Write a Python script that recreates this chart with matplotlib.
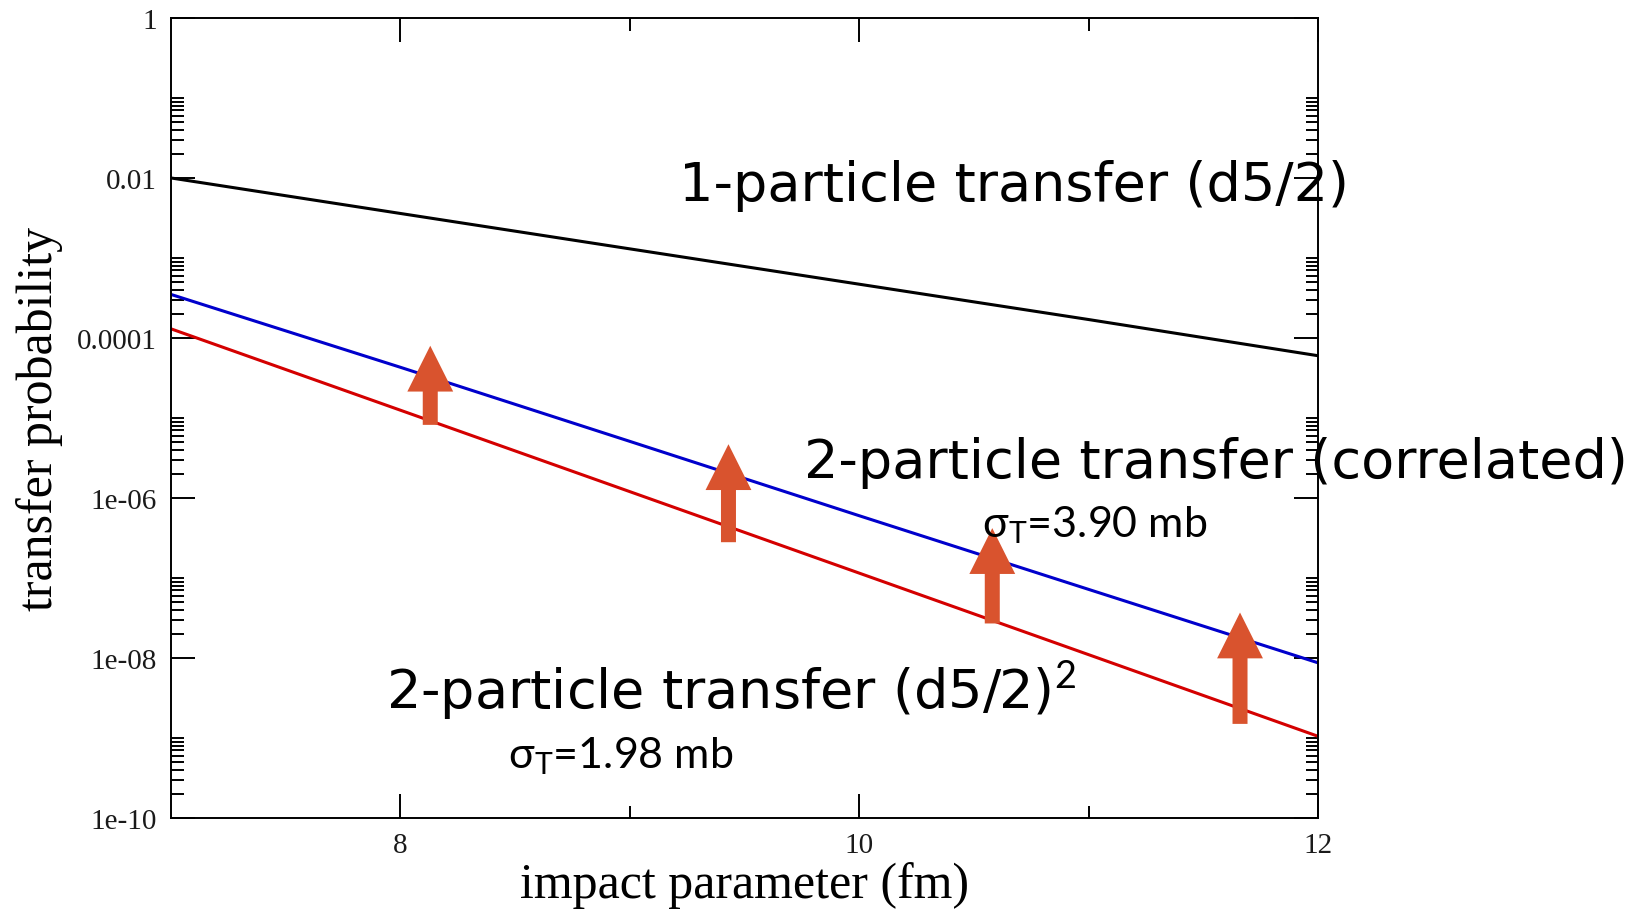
import matplotlib
matplotlib.use("Agg")
import matplotlib.pyplot as plt
from matplotlib.ticker import FixedLocator, NullFormatter

# impact parameter (fm) and transfer probabilities
impact = [7, 8, 9, 10, 11, 12]
p_one = [1.0e-2, 3.6e-3, 1.3e-3, 4.7e-4, 1.7e-4, 6.0e-5]
p_corr = [3.5e-4, 4.3e-5, 5.1e-6, 6.0e-7, 7.2e-8, 8.7e-9]
p_d52sq = [1.3e-4, 1.25e-5, 1.2e-6, 1.15e-7, 1.1e-8, 1.05e-9]

# enhancement arrows: x position, base (on the uncorrelated curve) and tip
arrow_x = [8.13, 9.43, 10.58, 11.66]
arrow_base = [8.2e-6, 2.8e-7, 2.7e-8, 1.5e-9]
arrow_tip = [8.0e-5, 4.7e-6, 4.2e-7, 3.7e-8]

x_major = [8, 10, 12]
x_minor = [9, 11]
y_major = [1e-10, 1e-8, 1e-6, 1e-4, 1e-2, 1]
y_major_labels = ["1e-10", "1e-08", "1e-06", "0.0001", "0.01", "1"]

plt.rcParams["mathtext.fontset"] = "custom"
plt.rcParams["mathtext.rm"] = "Lato"

fig = plt.figure(figsize=(16.43, 9.12), dpi=100)
ax = fig.add_axes([0.1041, 0.1020, 0.6981, 0.8772])

ax.plot(impact, p_one, color="black", lw=2.2)
ax.plot(impact, p_corr, color="#0000cc", lw=2.2)
ax.plot(impact, p_d52sq, color="#d40000", lw=2.2)

ax.set_yscale("log")
ax.set_xlim(7, 12)
ax.set_ylim(1e-10, 1)

# major ticks every two decades, minor ticks fill the lower decade of each pair
y_minor = []
for e in range(-10, 0, 2):
    y_minor += [k * 10.0 ** e for k in range(2, 11)]
ax.yaxis.set_major_locator(FixedLocator(y_major))
ax.yaxis.set_minor_locator(FixedLocator(y_minor))
ax.yaxis.set_minor_formatter(NullFormatter())
ax.set_yticklabels(y_major_labels)
ax.xaxis.set_major_locator(FixedLocator(x_major))
ax.xaxis.set_minor_locator(FixedLocator(x_minor))
ax.set_xticklabels([str(v) for v in x_major])

serif = "Liberation Serif"
ax.tick_params(which="both", direction="in", top=True, right=True, width=1.4)
ax.tick_params(which="major", length=17, labelsize=21, pad=10)
ax.tick_params(which="minor", length=9)
for lab in ax.get_xticklabels() + ax.get_yticklabels():
    lab.set_fontfamily(serif)
    lab.set_color("#1a1a1a")
for s in ax.spines.values():
    s.set_linewidth(1.4)

ax.set_xlabel("impact parameter (fm)", fontfamily=serif, fontsize=36, labelpad=2)
ax.set_ylabel("transfer probability", fontfamily=serif, fontsize=36, labelpad=10)

arrow_color = "#d9532e"
for x, y0, y1 in zip(arrow_x, arrow_base, arrow_tip):
    ax.annotate("", xy=(x, y1), xytext=(x, y0),
                arrowprops=dict(arrowstyle="simple,head_length=3.3,head_width=3.3,tail_width=1.08",
                                color=arrow_color, shrinkA=0, shrinkB=0, lw=0),
                annotation_clip=False)

big = dict(fontfamily="DejaVu Sans", fontsize=39, color="black", va="baseline", ha="left")
fig.text(0.4133, 0.7796, "1-particle transfer (d5/2)", **big)
fig.text(0.4893, 0.4759, "2-particle transfer (correlated)", **big)
fig.text(0.2349, 0.2237, r"2-particle transfer (d5/2)$^{\mathrm{2}}$", **big)

small = dict(fontfamily="Lato", fontsize=31, color="black", va="baseline", ha="left")
fig.text(0.5977, 0.4112, r"$\mathregular{\sigma_T}$=3.90 mb", **small)
fig.text(0.3092, 0.1579, r"$\mathregular{\sigma_T}$=1.98 mb", **small)

fig.savefig("out.png", dpi=100)
